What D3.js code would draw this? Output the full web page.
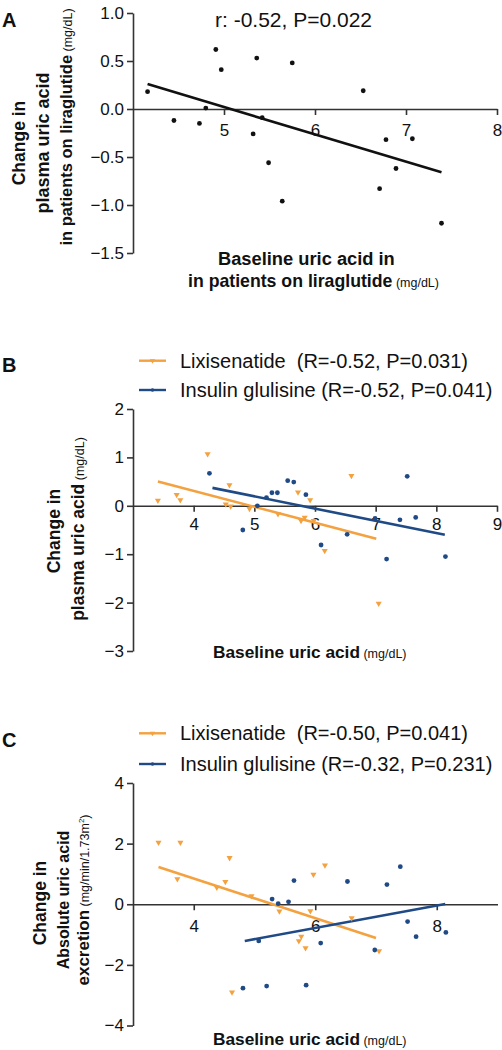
<!DOCTYPE html>
<html><head><meta charset="utf-8">
<script src="https://cdn.jsdelivr.net/npm/d3@7"></script>
<style>body{margin:0;background:#fff}svg{display:block}text{font-family:"Liberation Sans",Arial,Helvetica,sans-serif;fill:#111}</style>
</head><body><svg id="c" width="502" height="1050"></svg>
<script>
// ---------- Panel A (liraglutide) ----------
const aBaseline = [4.16,4.45,4.73,4.80,4.91,4.97,5.36,5.32,5.42,5.49,5.64,5.75,6.53,6.71,6.78,6.89,7.07,7.39];
const aChange   = [0.18,-0.12,-0.15,0.01,0.62,0.41,0.53,-0.26,-0.09,-0.56,-0.96,0.48,0.19,-0.83,-0.32,-0.62,-0.31,-1.19];
const aFitX = [4.16, 7.39];
const aFitY = [0.26, -0.66];
const aXTicks = [5,6,7,8];
const aYTicks = [-1.5,-1.0,-0.5,0.0,0.5,1.0];

// ---------- Panel B (plasma uric acid) ----------
const bLixiX = [3.41,3.72,3.78,4.23,4.53,4.59,4.61,4.92,5.39,5.72,5.77,5.83,5.92,5.98,6.16,6.60,7.05];
const bLixiY = [0.11,0.23,0.12,1.07,0.03,0.43,-0.01,-0.06,-0.17,0.28,-0.31,-0.24,0.12,-0.31,-0.93,0.62,-2.02];
const bInsX  = [4.26,4.81,5.05,5.20,5.29,5.38,5.55,5.65,5.85,6.10,6.53,6.99,7.18,7.40,7.52,7.66,8.15];
const bInsY  = [0.67,-0.50,0.00,0.17,0.27,0.27,0.52,0.49,0.23,-0.81,-0.59,-0.26,-1.10,-0.29,0.61,-0.24,-1.05];
const bLixiFitX = [3.41, 7.01], bLixiFitY = [0.50, -0.68];
const bInsFitX  = [4.31, 8.14], bInsFitY  = [0.37, -0.60];
const bXTicks = [4,5,6,7,8,9];
const bYTicks = [-3,-2,-1,0,1,2];

// ---------- Panel C (uric acid excretion) ----------
const cLixiX = [3.42,3.73,3.78,4.38,4.52,4.59,4.63,4.95,5.41,5.73,5.77,5.84,5.92,5.97,6.16,6.60,7.05];
const cLixiY = [2.04,0.83,2.04,0.55,0.74,1.53,-2.90,0.27,-0.23,-1.21,-1.06,-1.44,-0.22,0.98,1.29,-0.45,-1.54];
const cInsX  = [4.81,5.07,5.20,5.29,5.39,5.56,5.65,5.85,6.09,6.53,6.98,7.18,7.40,7.52,7.66,8.15];
const cInsY  = [-2.77,-1.21,-2.70,0.17,0.02,0.08,0.78,-2.67,-1.28,0.75,-1.51,0.65,1.24,-0.57,-1.07,-0.93];
const cLixiFitX = [3.42, 7.00], cLixiFitY = [1.23, -1.11];
const cInsFitX  = [4.84, 8.14], cInsFitY  = [-1.21, 0.01];
const cXTicks = [4,6,8];
const cYTicks = [-4,-2,0,2,4];

const seriesNames = ["Lixisenatide\u00A0", "Insulin glulisine"];
const bStats = ["(R=-0.52, P=0.031)", "(R=-0.52, P=0.041)"];
const cStats = ["(R=-0.50, P=0.041)", "(R=-0.32, P=0.231)"];

const ORANGE = "#F4A13F", BLUE = "#1F4A86", AXIS = "#333";
const svg = d3.select("#c");

function axes(g, x, y, xt, yt, yfmt, pad) {
  const xa = g.append("g").attr("transform", `translate(0,${y(0)})`)
    .call(d3.axisBottom(x).tickValues(xt).tickSize(6).tickSizeOuter(0).tickPadding(pad).tickFormat(d3.format("d")));
  const ya = g.append("g").attr("transform", `translate(${x.range()[0]},0)`)
    .call(d3.axisLeft(y).tickValues(yt).tickSize(6).tickSizeOuter(0).tickPadding(3).tickFormat(yfmt));
  [xa, ya].forEach(a => {
    a.selectAll("path,line").attr("stroke", AXIS).attr("stroke-width", 1.6);
    a.selectAll("text").style("font-size", "17px").style("font-family", '"Liberation Sans",Arial,sans-serif').attr("fill", "#111");
  });
}
function fit(g, x, y, fx, fy, color) {
  const pts = fx.map((v, i) => [v, fy[i]]);
  g.append("path").attr("d", d3.line().x(d => x(d[0])).y(d => y(d[1]))(pts))
    .attr("stroke", color).attr("stroke-width", 2.6).attr("fill", "none");
}
function dots(g, x, y, xs, ys, color, r) {
  g.selectAll(null).data(xs.map((v, i) => [v, ys[i]])).enter().append("circle")
    .attr("cx", d => x(d[0])).attr("cy", d => y(d[1])).attr("r", r).attr("fill", color);
}
function tris(g, x, y, xs, ys, color) {
  const sym = d3.symbol().type(d3.symbolTriangle).size(16);
  g.selectAll(null).data(xs.map((v, i) => [v, ys[i]])).enter().append("path")
    .attr("d", sym).attr("transform", d => `translate(${x(d[0])},${y(d[1])}) rotate(180)`).attr("fill", color);
}
function ytitle(g, lines) {
  lines.forEach(l => {
    const t = g.append("text").attr("transform", `translate(${l.x},${l.y}) rotate(-90)`)
      .attr("text-anchor", "middle");
    t.append("tspan").text(l.bold).style("font-weight", "bold").style("font-size", (l.fs || 17) + "px");
    if (l.unit) {
      t.append("tspan").text(" " + l.unit).style("font-size", "12.5px");
      if (l.sup) t.append("tspan").text(l.sup).attr("dy", -5).style("font-size", "8px");
      if (l.close) t.append("tspan").text(l.close).attr("dy", l.sup ? 5 : 0).style("font-size", "12.5px");
    }
  });
}
function xtitle(g, x0, yb, bold, unit, fs) {
  const t = g.append("text").attr("x", x0).attr("y", yb);
  t.append("tspan").text(bold).style("font-weight", "bold").style("font-size", (fs || 18) + "px");
  if (unit) t.append("tspan").text(" " + unit).style("font-size", "12.5px");
}
function panelLabel(g, s, yb) {
  g.append("text").attr("x", 2).attr("y", yb).text(s).style("font-weight", "bold").style("font-size", "20px");
}
function legend(g, y1, y2, stats) {
  [[y1, ORANGE, 0], [y2, BLUE, 1]].forEach(([yy, col, i]) => {
    g.append("line").attr("x1", 139).attr("x2", 166).attr("y1", yy).attr("y2", yy).attr("stroke", col).attr("stroke-width", 2.4);
    if (i === 0) g.append("path").attr("d", d3.symbol().type(d3.symbolTriangle).size(12)).attr("transform", `translate(152.5,${yy}) rotate(180)`).attr("fill", col);
    else g.append("circle").attr("cx", 152.5).attr("cy", yy).attr("r", 1.8).attr("fill", col);
    g.append("text").attr("x", 180).attr("y", yy + 7).style("font-size", "20px")
      .text(seriesNames[i] + " " + stats[i]);
  });
}

// ----- Panel A -----
{
  const g = svg.append("g");
  const x = d3.scaleLinear().domain([4, 8]).range([133, 497]);
  const y = d3.scaleLinear().domain([-1.5, 1.0]).range([253, 13]);
  axes(g, x, y, aXTicks, aYTicks, d3.format(".1f"), 9);
  fit(g, x, y, aFitX, aFitY, "#111");
  dots(g, x, y, aBaseline, aChange, "#111", 2.4);
  panelLabel(g, "A", 27);
  g.append("text").attr("x", 215).attr("y", 27).style("font-size", "21px").text("r: -0.52, P=0.022");
  ytitle(g, [
    {x: 25, y: 143, bold: "Change in", fs: 17.5},
    {x: 49, y: 143, bold: "plasma uric acid", fs: 18},
    {x: 72, y: 127, bold: "in patients on liraglutide", unit: "(mg/dL)", fs: 16.5}
  ]);
  xtitle(g, 218, 265, "Baseline uric acid in", "", 18.3);
  xtitle(g, 188, 287, "in patients on liraglutide", "(mg/dL)", 17.7);
}
// ----- Panel B -----
{
  const g = svg.append("g");
  const x = d3.scaleLinear().domain([3, 9]).range([133, 497]);
  const y = d3.scaleLinear().domain([-3, 2]).range([651, 409]);
  axes(g, x, y, bXTicks, bYTicks, d3.format("d"), 6);
  panelLabel(g, "B", 372);
  legend(g, 360.7, 390, bStats);
  fit(g, x, y, bLixiFitX, bLixiFitY, ORANGE);
  fit(g, x, y, bInsFitX, bInsFitY, BLUE);
  tris(g, x, y, bLixiX, bLixiY, ORANGE);
  dots(g, x, y, bInsX, bInsY, BLUE, 2.4);
  ytitle(g, [
    {x: 60, y: 531, bold: "Change in", fs: 17.5},
    {x: 84, y: 529, bold: "plasma uric acid", unit: "(mg/dL)", fs: 17.5}
  ]);
  xtitle(g, 213, 658, "Baseline uric acid", "(mg/dL)", 17.3);
}
// ----- Panel C -----
{
  const g = svg.append("g");
  const x = d3.scaleLinear().domain([3, 9]).range([133, 497.5]);
  const y = d3.scaleLinear().domain([-4, 4]).range([1025.5, 783]);
  axes(g, x, y, cXTicks, cYTicks, d3.format("d"), 10);
  panelLabel(g, "C", 747);
  legend(g, 733.3, 764, cStats);
  fit(g, x, y, cLixiFitX, cLixiFitY, ORANGE);
  fit(g, x, y, cInsFitX, cInsFitY, BLUE);
  tris(g, x, y, cLixiX, cLixiY, ORANGE);
  dots(g, x, y, cInsX, cInsY, BLUE, 2.4);
  ytitle(g, [
    {x: 46, y: 903, bold: "Change in", fs: 17.5},
    {x: 69, y: 900, bold: "Absolute uric acid", fs: 16},
    {x: 89, y: 900, bold: "excretion", unit: "(mg/min/1.73m", sup: "2", close: ")", fs: 17}
  ]);
  xtitle(g, 213, 1045, "Baseline uric acid", "(mg/dL)", 17.3);
}
</script></body></html>
